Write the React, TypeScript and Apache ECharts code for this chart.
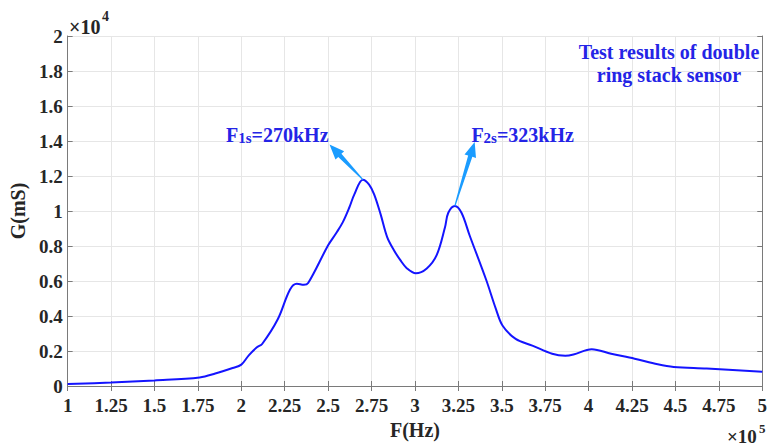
import React, { useEffect, useRef } from "react";
import * as echarts from "echarts";

// Conductance spectrum of the double ring stack sensor
const FREQ_HZ = [
  100000, 125000, 150000, 176000, 185000, 195000, 200000, 204300, 209000, 212000,
  221000, 228000, 232000, 236000, 238500, 250000, 254600, 258400, 262200, 265100,
  270000, 273600, 276500, 280200, 284000, 287900, 291600, 295400, 300500, 306800,
  312500, 317300, 319200, 323000, 326800, 331500, 341000, 346700, 350500, 358000,
  367600, 379000, 386600, 391300, 401800, 413000, 426500, 439800, 449000, 468000,
  500000,
];
const G_MS = [
  110, 200, 320, 490, 710, 1030, 1220, 1750, 2210, 2400,
  3810, 5500, 5840, 5780, 5880, 8040, 8730, 9350, 10200, 10950,
  11790, 11510, 10950, 9820, 8510, 7760, 7190, 6720, 6440, 6720,
  7480, 9070, 9900, 10290, 9900, 8600, 6070, 4380, 3440, 2690,
  2310, 1840, 1730, 1800, 2100, 1840, 1560, 1240, 1090, 1000,
  810,
];

const X_TICK_LABELS = ["1", "1.25", "1.5", "1.75", "2", "2.25", "2.5", "2.75", "3", "3.25", "3.5", "3.75", "4", "4.25", "4.5", "4.75", "5"];
const Y_TICK_LABELS = ["0", "0.2", "0.4", "0.6", "0.8", "1", "1.2", "1.4", "1.6", "1.8", "2"];

// Resonance call-outs: peak point, arrow tip and label anchor (left/centre of the text)
const PEAK_LABELS = ["F", "F"];
const PEAK_SUBS = ["1s", "2s"];
const PEAK_VALUES = ["=270kHz", "=323kHz"];
const PEAK_F = [270000, 323000];
const PEAK_G = [11790, 10290];
const TIP_F = [250800, 334400];
const TIP_G = [13800, 13950];
const LABEL_F = [191200, 332500];
const LABEL_G = [14330, 14330];

const TITLE_LINES = ["Test results of double", "ring stack sensor"];

const X_MIN = 100000, X_MAX = 500000, X_STEP = 25000;
const Y_MIN = 0, Y_MAX = 20000, Y_STEP = 2000;

const FONT = "'Liberation Serif', 'Times New Roman', serif";
const INK = "#262626";
const BLUE_TEXT = "#2424e6";
const ARROW = "#1a9cff";

export default function App() {
  const ref = useRef<HTMLDivElement>(null);

  useEffect(() => {
    if (!ref.current) return;
    const chart = echarts.init(ref.current, null, { renderer: "svg" });

    const xLabel = (v: number) => X_TICK_LABELS[Math.round((v - X_MIN) / X_STEP)] ?? "";
    const yLabel = (v: number) => Y_TICK_LABELS[Math.round((v - Y_MIN) / Y_STEP)] ?? "";

    const boxAxisLine = { show: true, lineStyle: { color: "#7a7a7a", width: 1 } };
    const innerTick = { show: true, inside: true, length: 5, lineStyle: { color: "#7a7a7a" } };
    const gridLine = { show: true, lineStyle: { color: "#e6e6e6", width: 1 } };
    const labelText = { color: INK, fontFamily: FONT, fontWeight: "bold", fontSize: 19 };

    chart.setOption({
      animation: false,
      backgroundColor: "#ffffff",
      grid: { left: 67, right: 1, top: 36, bottom: 54, containLabel: false },
      xAxis: [
        {
          type: "value", min: X_MIN, max: X_MAX, interval: X_STEP, position: "bottom",
          axisLine: boxAxisLine, axisTick: innerTick, splitLine: gridLine,
          axisLabel: { ...labelText, formatter: xLabel, margin: 10 },
          name: "F(Hz)", nameLocation: "middle", nameGap: 34,
          nameTextStyle: { ...labelText, fontSize: 20 },
        },
        {
          type: "value", min: X_MIN, max: X_MAX, interval: X_STEP, position: "top",
          axisLine: boxAxisLine, axisTick: innerTick, splitLine: { show: false }, axisLabel: { show: false },
        },
      ],
      yAxis: [
        {
          type: "value", min: Y_MIN, max: Y_MAX, interval: Y_STEP, position: "left",
          axisLine: boxAxisLine, axisTick: innerTick, splitLine: gridLine,
          axisLabel: { ...labelText, formatter: yLabel, margin: 5 },
          name: "G(mS)", nameLocation: "middle", nameGap: 31, nameRotate: 90,
          nameTextStyle: { ...labelText, fontSize: 20 },
        },
        {
          type: "value", min: Y_MIN, max: Y_MAX, interval: Y_STEP, position: "right",
          axisLine: boxAxisLine, axisTick: innerTick, splitLine: { show: false }, axisLabel: { show: false },
        },
      ],
      series: [
        {
          type: "line",
          xAxisIndex: 0,
          yAxisIndex: 0,
          data: FREQ_HZ.map((f, i) => [f, G_MS[i]]),
          smooth: 0.35,
          symbol: "none",
          lineStyle: { color: "#1414ff", width: 2 },
          z: 5,
        },
      ],
    });

    const px = (f: number, g: number) =>
      chart.convertToPixel({ xAxisIndex: 0, yAxisIndex: 0 }, [f, g]) as number[];

    const graphics: any[] = [];

    // tapered arrows from each peak to its label
    PEAK_F.forEach((f, i) => {
      const [x0, y0] = px(f, PEAK_G[i]);
      const [x1, y1] = px(TIP_F[i], TIP_G[i]);
      const dx = x1 - x0, dy = y1 - y0;
      const len = Math.hypot(dx, dy);
      const ux = dx / len, uy = dy / len;
      const nx = -uy, ny = ux;
      const headLen = 15, headHalf = 6, shaftHalf = 2.2;
      const bx = x1 - ux * headLen, by = y1 - uy * headLen;
      graphics.push({
        type: "polygon",
        z: 10,
        shape: {
          points: [
            [x0 + nx * 0.6, y0 + ny * 0.6],
            [bx + nx * shaftHalf, by + ny * shaftHalf],
            [bx + nx * headHalf, by + ny * headHalf],
            [x1, y1],
            [bx - nx * headHalf, by - ny * headHalf],
            [bx - nx * shaftHalf, by - ny * shaftHalf],
            [x0 - nx * 0.6, y0 - ny * 0.6],
          ],
        },
        style: { fill: ARROW },
      });
      const [lx, ly] = px(LABEL_F[i], LABEL_G[i]);
      graphics.push({
        type: "text",
        z: 10,
        x: lx,
        y: ly,
        style: {
          text: `{a|${PEAK_LABELS[i]}}{b|${PEAK_SUBS[i]}}{a|${PEAK_VALUES[i]}}`,
          verticalAlign: "middle",
          rich: {
            a: { fontFamily: FONT, fontWeight: "bold", fontSize: 20, fill: BLUE_TEXT },
            b: { fontFamily: FONT, fontWeight: "bold", fontSize: 15, fill: BLUE_TEXT, padding: [5, 0, 0, 0] },
          },
        },
      });
    });

    // title block in the upper right
    TITLE_LINES.forEach((line, i) => {
      graphics.push({
        type: "text",
        z: 10,
        x: 669,
        y: 52 + i * 23,
        style: {
          text: line,
          fontFamily: FONT,
          fontWeight: "bold",
          fontSize: 20,
          fill: BLUE_TEXT,
          align: "center",
          verticalAlign: "middle",
        },
      });
    });

    // axis exponents
    const expText = (x: number, y: number, text: string, size: number) => ({
      type: "text", x, y,
      style: { text, fontFamily: FONT, fontWeight: "bold", fontSize: size, fill: INK, verticalAlign: "middle" },
    });
    graphics.push(
      expText(69, 27, "×10", 20),
      expText(102, 16, "4", 14),
      expText(727, 436, "×10", 19),
      expText(759, 428, "5", 13)
    );

    chart.setOption({ graphic: graphics });

    return () => chart.dispose();
  }, []);

  return (
    <div
      ref={ref}
      style={{ position: "absolute", left: 0, top: 0, width: 770, height: 445, background: "#fff" }}
    />
  );
}
